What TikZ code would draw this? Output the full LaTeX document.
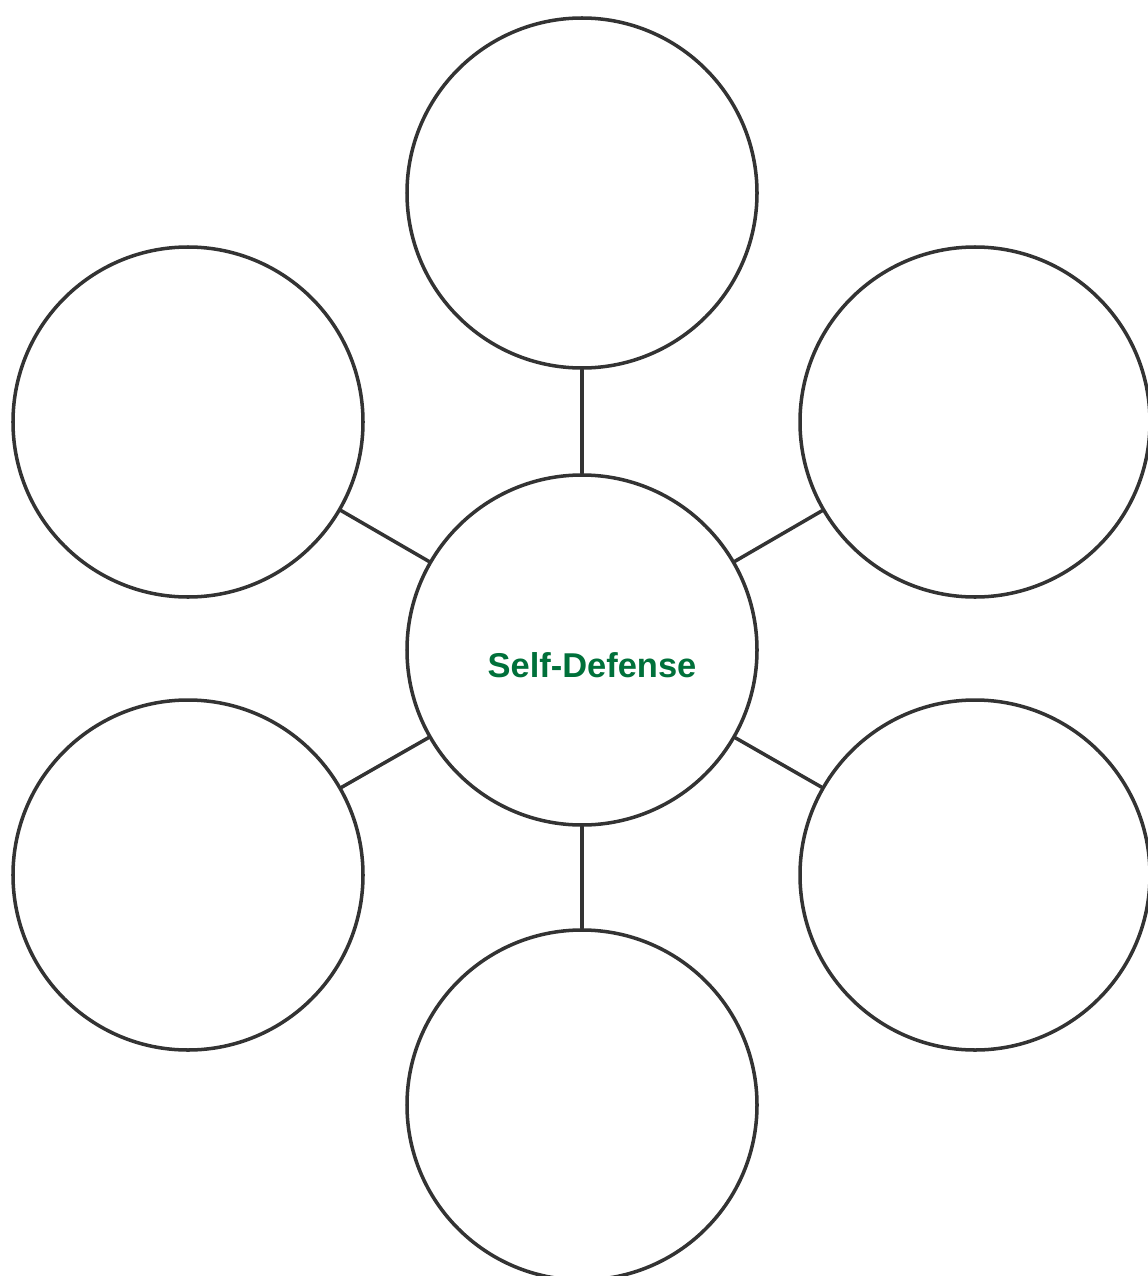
\documentclass[tikz,border=0pt]{standalone}
\usepackage{fontspec}
\setmainfont{Liberation Sans}
\usetikzlibrary{positioning}
\definecolor{webline}{HTML}{333333}
\definecolor{webgreen}{HTML}{00703A}

\begin{document}
\begin{tikzpicture}[line cap=round,line join=round,
    bubble/.style={circle,draw=webline,line width=2pt,minimum size=7cm,inner sep=0pt},
    link/.style={draw=webline,line width=2pt}]
  \useasboundingbox (0,0) rectangle (22.96,-25.52);

  % hub and the six bubbles round it
  \node[bubble] (hub) at (11.64,-13.0) {};
  \node[webgreen,font=\fontsize{19.6}{22}\selectfont\bfseries] (title) at (11.84,-13.3) {Self-Defense};

  \node[bubble] (top)   at (11.64,-3.86) {};
  \node[bubble] (tl)    at (3.76,-8.44) {};
  \node[bubble] (tr)    at (19.5,-8.44) {};
  \node[bubble] (bl)    at (3.76,-17.5) {};
  \node[bubble] (br)    at (19.5,-17.5) {};
  \node[bubble] (bot)   at (11.64,-22.1) {};

  \foreach \b in {top,tl,tr,bl,br,bot}
    \draw[link] (hub) -- (\b);
\end{tikzpicture}
\end{document}
